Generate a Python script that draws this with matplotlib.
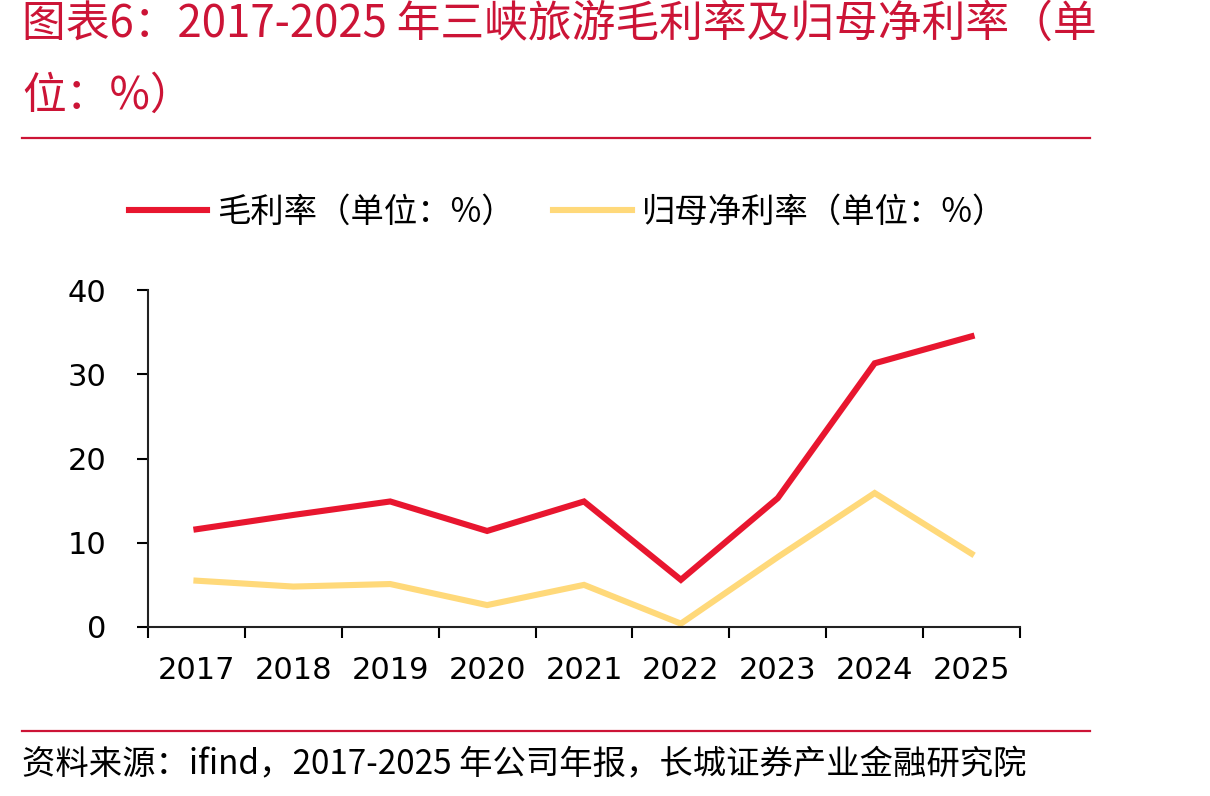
import matplotlib
matplotlib.use('Agg')
import matplotlib.pyplot as plt
import numpy as np

plt.rcParams['font.family'] = ['Noto Sans CJK SC', 'DejaVu Sans']

# 数据
years = ['2017', '2018', '2019', '2020', '2021', '2022', '2023', '2024', '2025']
gross_margin = [11.6, 13.3, 14.9, 11.4, 14.9, 5.6, 15.3, 31.3, 34.5]
net_margin = [5.5, 4.8, 5.1, 2.6, 5.0, 0.4, 8.3, 15.9, 8.7]
yticks = [0, 10, 20, 30, 40]

title_line1 = '图表6：2017-2025 年三峡旅游毛利率及归母净利率（单'
title_line2 = '位：%）'
source_text = '资料来源：ifind，2017-2025 年公司年报，长城证券产业金融研究院'
legend_labels = ['毛利率（单位：%）', '归母净利率（单位：%）']

RED = '#E8162F'
YELLOW = '#FFD97A'
TITLE_RED = '#CC1436'

W, H = 1210, 796
fig = plt.figure(figsize=(W / 100, H / 100), dpi=100)

# 标题
fig.text(22 / W, 1 - 24 / H, title_line1, color=TITLE_RED, fontsize=31.5,
         style='italic', ha='left', va='center')
fig.text(22 / W, 1 - 96 / H, title_line2, color=TITLE_RED, fontsize=31.5,
         style='italic', ha='left', va='center')

# 分隔线
fig.add_artist(plt.Line2D([22 / W, 1090 / W], [1 - 138 / H, 1 - 138 / H],
                          color=TITLE_RED, linewidth=1.6))
fig.add_artist(plt.Line2D([22 / W, 1090 / W], [1 - 731 / H, 1 - 731 / H],
                          color=TITLE_RED, linewidth=1.6))

# 来源
fig.text(22 / W, 1 - 765 / H, source_text, color='black', fontsize=24,
         style='italic', ha='left', va='center')

# 主图
ax = fig.add_axes([148 / W, 1 - 627 / H, 872 / W, 337 / H])
x = np.arange(len(years))
l1, = ax.plot(x, gross_margin, color=RED, linewidth=4.4, solid_joinstyle='miter')
l2, = ax.plot(x, net_margin, color=YELLOW, linewidth=4.4, solid_joinstyle='miter')

ax.set_xlim(-0.5, len(years) - 0.5)
ax.set_ylim(0, 40)
ax.set_yticks(yticks)
ax.set_yticklabels([str(v) for v in yticks], family='DejaVu Sans', fontsize=22)

ax.set_xticks(np.arange(-0.5, len(years), 1))
ax.set_xticklabels([])
ax.set_xticks(x, minor=True)
ax.set_xticklabels(years, minor=True, family='DejaVu Sans', fontsize=22)
ax.tick_params(axis='x', which='major', direction='out', length=8, width=1.5)
ax.tick_params(axis='x', which='minor', length=0, pad=21)
ax.tick_params(axis='y', direction='out', length=8, width=1.5, pad=22)

for side in ['top', 'right']:
    ax.spines[side].set_visible(False)
for side in ['left', 'bottom']:
    ax.spines[side].set_linewidth(1.5)
    ax.spines[side].set_color('#222222')

leg = fig.legend([l1, l2], legend_labels, loc='center left',
                 bbox_to_anchor=(99 / W, 1 - 212 / H), ncol=2, frameon=False,
                 fontsize=24, handlelength=2.35, handletextpad=0.3,
                 columnspacing=1.15)

fig.savefig('out.png', dpi=100, facecolor='white')
